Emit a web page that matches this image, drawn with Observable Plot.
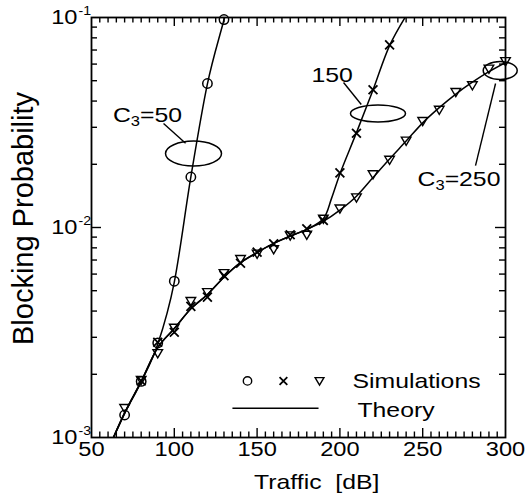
<!DOCTYPE html>
<html><head><meta charset="utf-8">
<script src="https://cdn.jsdelivr.net/npm/d3@7"></script>
<script src="https://cdn.jsdelivr.net/npm/@observablehq/plot@0.6"></script>
<style>
html,body{margin:0;padding:0;background:#fff;}
</style></head><body><div id="chart"></div>
<script>
// ---- data ----
const simX50 = [70, 80, 90, 100, 110, 120, 130];
const simY50 = [0.00128, 0.00185, 0.00282, 0.00555, 0.0174, 0.0485, 0.0978];

const simX150 = [80, 90, 100, 110, 120, 130, 140, 150, 160, 170, 180, 190, 200, 210, 220, 230];
const simY150 = [0.00186, 0.00284, 0.00317, 0.00421, 0.00466, 0.0059, 0.00676, 0.00763, 0.00836, 0.00923, 0.00986, 0.0108, 0.0182, 0.0281, 0.0453, 0.0741];

const simX250 = [70, 80, 90, 100, 110, 120, 130, 140, 150, 160, 170, 180, 190, 200, 210, 220, 230, 240, 250, 260, 270, 280, 290, 300];
const simY250 = [0.00138, 0.00188, 0.00252, 0.00333, 0.00446, 0.00492, 0.00606, 0.00707, 0.0075, 0.00788, 0.00916, 0.00923, 0.011, 0.0123, 0.0139, 0.0179, 0.0210, 0.0259, 0.0321, 0.0363, 0.0441, 0.0475, 0.0570, 0.0619];

const theoryX50 = [62, 70, 80, 90, 100, 110, 120, 130, 132];
const theoryY50 = [0.00095, 0.00130, 0.00184, 0.00278, 0.0055, 0.0174, 0.0483, 0.0975, 0.112];

const theoryX150 = [62, 70, 80, 90, 100, 110, 120, 130, 140, 150, 160, 170, 180, 190, 195, 200, 210, 220, 230, 240];
const theoryY150 = [0.00095, 0.00131, 0.00185, 0.00268, 0.0033, 0.0041, 0.0048, 0.0058, 0.0068, 0.0076, 0.0084, 0.0091, 0.0098, 0.0110, 0.0138, 0.0180, 0.0283, 0.0452, 0.0735, 0.102];

const theoryX250 = [62, 70, 80, 90, 100, 110, 120, 130, 140, 150, 160, 170, 180, 190, 200, 210, 220, 230, 240, 250, 260, 270, 280, 290, 300];
const theoryY250 = [0.00095, 0.00131, 0.00185, 0.00268, 0.0033, 0.0041, 0.0048, 0.0058, 0.0068, 0.0076, 0.0084, 0.0091, 0.0098, 0.0107, 0.0121, 0.0141, 0.0173, 0.0212, 0.0258, 0.0315, 0.0372, 0.0432, 0.0492, 0.0552, 0.0610];

const xTickValues = [50, 100, 150, 200, 250, 300];
const yTickValues = [0.001, 0.01, 0.1];
const yTickExponents = ["-3", "-2", "-1"];
const xLabel = "Traffic\u00a0\u00a0[dB]";
const yLabel = "Blocking Probability";
const legendLabels = ["Simulations", "Theory"];
const annotationLabels = ["C3=50", "150", "C3=250"];

// ---- helpers ----
const pts = (xs, ys) => xs.map((x, i) => ({x, y: ys[i]}));
const triangleDown = {draw(ctx, size) { const r = Math.sqrt(size / Math.PI); ctx.moveTo(-r, -0.75 * r); ctx.lineTo(r, -0.75 * r); ctx.lineTo(0, 0.95 * r); ctx.closePath(); }};
function ellipse(rx, ry) {
  const k = 0.5523;
  return {draw(ctx) {
    ctx.moveTo(rx, 0);
    ctx.bezierCurveTo(rx, ry * k, rx * k, ry, 0, ry);
    ctx.bezierCurveTo(-rx * k, ry, -rx, ry * k, -rx, 0);
    ctx.bezierCurveTo(-rx, -ry * k, -rx * k, -ry, 0, -ry);
    ctx.bezierCurveTo(rx * k, -ry, rx, -ry * k, rx, 0);
    ctx.closePath();
  }};
}
const xMinor = d3.range(55, 300, 5).filter(v => v % 50 !== 0);
const xMajor = xTickValues.slice(1, -1);
const yMinor = [0.001, 0.01].flatMap(d => d3.range(2, 10).map(k => +(k * d).toPrecision(3)));
const yMajor = yTickValues.slice(1, -1);
const IH = 420, IW = 414;

const lineStyle = {x: "x", y: "y", curve: "monotone-x", stroke: "black", strokeWidth: 1.5, clip: true};

const chart = Plot.plot({
  width: 531, height: 496,
  marginLeft: 91, marginRight: 26, marginTop: 17, marginBottom: 59,
  style: {fontFamily: '"Liberation Sans", Arial, Helvetica, sans-serif', background: "white", color: "black", overflow: "visible"},
  x: {domain: [50, 300], axis: null},
  y: {type: "log", domain: [0.001, 0.1], axis: null},
  marks: [
    Plot.line(pts(theoryX50, theoryY50), lineStyle),
    Plot.line(pts(theoryX150, theoryY150), {...lineStyle, curve: "catmull-rom"}),
    Plot.line(pts(theoryX250, theoryY250), lineStyle),
    Plot.dot(pts(simX50, simY50), {x: "x", y: "y", r: 4.7, symbol: "circle", stroke: "black", fill: "none", strokeWidth: 1.5}),
    Plot.dot(pts(simX150, simY150), {x: "x", y: "y", r: 4.1, symbol: "times", stroke: "black", strokeWidth: 1.8}),
    Plot.dot(pts(simX250, simY250), {x: "x", y: "y", r: 4.8, symbol: triangleDown, stroke: "black", fill: "none", strokeWidth: 1.4}),
    // annotations
    Plot.dot([{x: 111.6, y: 0.0225, s: ellipse(28, 12.5)}, {x: 223.0, y: 0.0349, s: ellipse(27.5, 8.5)}, {x: 296.8, y: 0.0559, s: ellipse(17, 9)}],
      {x: "x", y: "y", symbol: d => d.s, stroke: "black", fill: "none", strokeWidth: 1.5}),
    Plot.link([{x1: 93.5, y1: 0.0313, x2: 106.8, y2: 0.0252}, {x1: 202.2, y1: 0.0490, x2: 212.9, y2: 0.0385}, {x1: 294.0, y1: 0.0485, x2: 281.9, y2: 0.0197}],
      {x1: "x1", y1: "y1", x2: "x2", y2: "y2", stroke: "black", strokeWidth: 1.4}),
    Plot.text([{t: annotationLabels[0], x: 83.8, y: 0.0343}, {t: annotationLabels[1], x: 195.3, y: 0.0533}, {t: annotationLabels[2], x: 271.9, y: 0.01706}],
      {x: "x", y: "y", text: "t", textAnchor: "middle", fontSize: 21, fill: "black"}),
    // legend
    Plot.dot([{x: 144.2}], {x: "x", y: () => 0.00186, r: 4.2, symbol: "circle", stroke: "black", fill: "none", strokeWidth: 1.4}),
    Plot.dot([{x: 165.9}], {x: "x", y: () => 0.00186, r: 3.6, symbol: "times", stroke: "black", strokeWidth: 1.8}),
    Plot.dot([{x: 187.7}], {x: "x", y: () => 0.00186, r: 4.4, symbol: triangleDown, stroke: "black", fill: "none", strokeWidth: 1.4}),
    Plot.link([{x1: 135.1, x2: 187.1}], {x1: "x1", x2: "x2", y1: () => 0.00138, y2: () => 0.00138, stroke: "black", strokeWidth: 1.5}),
    Plot.text([{t: legendLabels[0], x: 207.6, y: 0.00185}, {t: legendLabels[1], x: 210.6, y: 0.001345}],
      {x: "x", y: "y", text: "t", textAnchor: "start", fontSize: 21, fill: "black"}),
    // frame and inward ticks
    Plot.frame({stroke: "black", strokeWidth: 1.8}),
    Plot.ruleX(xMinor, {x: d => d, insetTop: IH - 5.5, stroke: "black", strokeWidth: 1.4}),
    Plot.ruleX(xMinor, {x: d => d, insetBottom: IH - 5.5, stroke: "black", strokeWidth: 1.4}),
    Plot.ruleX(xMajor, {x: d => d, insetTop: IH - 9, stroke: "black", strokeWidth: 1.4}),
    Plot.ruleX(xMajor, {x: d => d, insetBottom: IH - 9, stroke: "black", strokeWidth: 1.4}),
    Plot.ruleY(yMinor, {y: d => d, insetRight: IW - 6, stroke: "black", strokeWidth: 1.4}),
    Plot.ruleY(yMinor, {y: d => d, insetLeft: IW - 6, stroke: "black", strokeWidth: 1.4}),
    Plot.ruleY(yMajor, {y: d => d, insetRight: IW - 10, stroke: "black", strokeWidth: 1.4}),
    Plot.ruleY(yMajor, {y: d => d, insetLeft: IW - 10, stroke: "black", strokeWidth: 1.4}),
    // tick labels
    Plot.text(xTickValues, {x: d => d, frameAnchor: "bottom", text: d => String(d), textAnchor: "middle", lineAnchor: "top", dy: 4, fontSize: 20, fill: "black"}),
    Plot.text(yTickValues, {y: d => d, frameAnchor: "left", text: () => "10", textAnchor: "end", dx: -14, fontSize: 20, fill: "black"}),
    Plot.text(yTickValues, {y: d => d, frameAnchor: "left", text: (d, i) => yTickExponents[i], textAnchor: "start", dx: -13, dy: -6, fontSize: 12, fill: "black"}),
    // axis titles
    Plot.text([xLabel], {x: () => 186, frameAnchor: "bottom", text: d => d, dy: 51, lineAnchor: "bottom", textAnchor: "middle", fontSize: 21, fill: "black"}),
    Plot.text([yLabel], {frameAnchor: "left", text: d => d, rotate: -90, dx: -59, dy: -9, lineAnchor: "bottom", textAnchor: "middle", fontSize: 29, fill: "black"})
  ]
});
document.getElementById("chart").append(chart);

// subscripts for C3
const ns = "http://www.w3.org/2000/svg";
chart.querySelectorAll("text").forEach(t => {
  const m = t.textContent.match(/^C3(=.*)$/);
  if (!m) return;
  t.textContent = "C";
  const sub = document.createElementNS(ns, "tspan");
  sub.setAttribute("font-size", "14"); sub.setAttribute("dy", "4"); sub.textContent = "3";
  const rest = document.createElementNS(ns, "tspan");
  rest.setAttribute("dy", "-4"); rest.textContent = m[1];
  t.append(sub, rest);
});
// horizontal widening of upright text, as in the reference typeface
chart.querySelectorAll("text").forEach(t => {
  if ((t.getAttribute("transform") || "").includes("rotate")) return;
  const L = t.getComputedTextLength();
  if (L > 0) { t.setAttribute("textLength", (L * 1.18).toFixed(1)); t.setAttribute("lengthAdjust", "spacingAndGlyphs"); }
});
</script>
</body></html>
